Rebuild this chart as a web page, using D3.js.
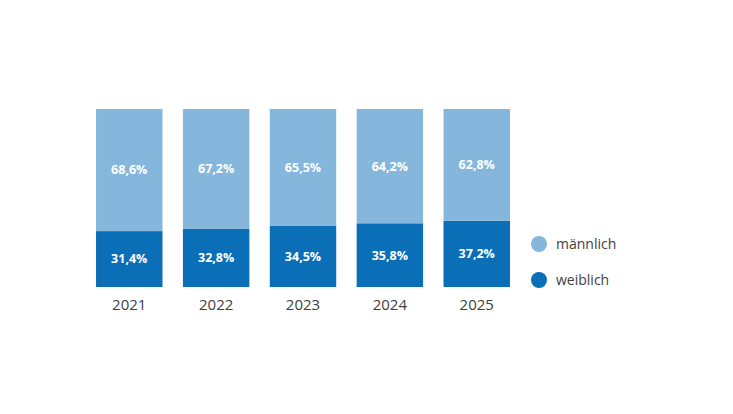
<!DOCTYPE html>
<html>
<head>
<meta charset="utf-8">
<script src="https://cdn.jsdelivr.net/npm/d3@7"></script>
<style>
  body { margin: 0; background: #fff; }
  text { font-family: "Open Sans", "Noto Sans", sans-serif; }
</style>
</head>
<body>
<div id="chart"></div>
<script>
// chart data
var years = ["2021", "2022", "2023", "2024", "2025"];
var weiblich = [31.4, 32.8, 34.5, 35.8, 37.2];
var maennlich = [68.6, 67.2, 65.5, 64.2, 62.8];
var seriesNames = ["männlich", "weiblich"];
var seriesColors = ["#85b7dd", "#0b6fb8"];

var width = 733, height = 414;

var svg = d3.select("#chart").append("svg")
    .attr("width", width)
    .attr("height", height);

// x scale: band per year
var x = d3.scaleBand()
    .domain(years)
    .range([83, 523])
    .paddingInner(0.235)
    .paddingOuter(0.15);

// y scale: percent, stacked to 100
var y = d3.scaleLinear()
    .domain([0, 100])
    .range([287, 109]);

var rows = years.map(function(yr, i) {
    return { year: yr, "weiblich": weiblich[i], "männlich": maennlich[i] };
});

// weiblich at bottom, männlich on top
var stack = d3.stack().keys(["weiblich", "männlich"]);
var layers = stack(rows);

var fmt = function(v) { return v.toFixed(1).replace(".", ",") + "%"; };

var g = svg.append("g");

layers.forEach(function(layer) {
    var color = seriesColors[seriesNames.indexOf(layer.key)];
    var lg = g.append("g");
    lg.selectAll("rect")
        .data(layer)
        .enter().append("rect")
        .attr("x", function(d) { return x(d.data.year); })
        .attr("y", function(d) { return y(d[1]); })
        .attr("width", x.bandwidth())
        .attr("height", function(d) { return y(d[0]) - y(d[1]); })
        .attr("fill", color);
    lg.selectAll("text")
        .data(layer)
        .enter().append("text")
        .attr("x", function(d) { return x(d.data.year) + x.bandwidth() / 2; })
        .attr("y", function(d) { return (y(d[0]) + y(d[1])) / 2; })
        .attr("dy", "0.35em")
        .attr("text-anchor", "middle")
        .attr("fill", "#fff")
        .attr("font-size", 12.5)
        .attr("font-weight", "bold")
        .text(function(d) { return fmt(d[1] - d[0]); });
});

// x axis labels (no line, no ticks)
var xAxis = d3.axisBottom(x).tickSize(0).tickPadding(0);
var ax = svg.append("g")
    .attr("transform", "translate(0," + 299 + ")")
    .call(xAxis);
ax.select(".domain").remove();
ax.selectAll("text")
    .attr("font-size", 15)
    .attr("fill", "#404040")
    .attr("dy", "0.71em");

// legend
var legend = svg.append("g").attr("transform", "translate(539,0)");
var legendY = [244, 280];
seriesNames.forEach(function(name, i) {
    var item = legend.append("g").attr("transform", "translate(0," + legendY[i] + ")");
    item.append("circle")
        .attr("r", 8)
        .attr("fill", seriesColors[i]);
    item.append("text")
        .attr("x", 17)
        .attr("dy", "0.35em")
        .attr("font-size", 14)
        .attr("fill", "#404040")
        .text(name);
});
</script>
</body>
</html>
